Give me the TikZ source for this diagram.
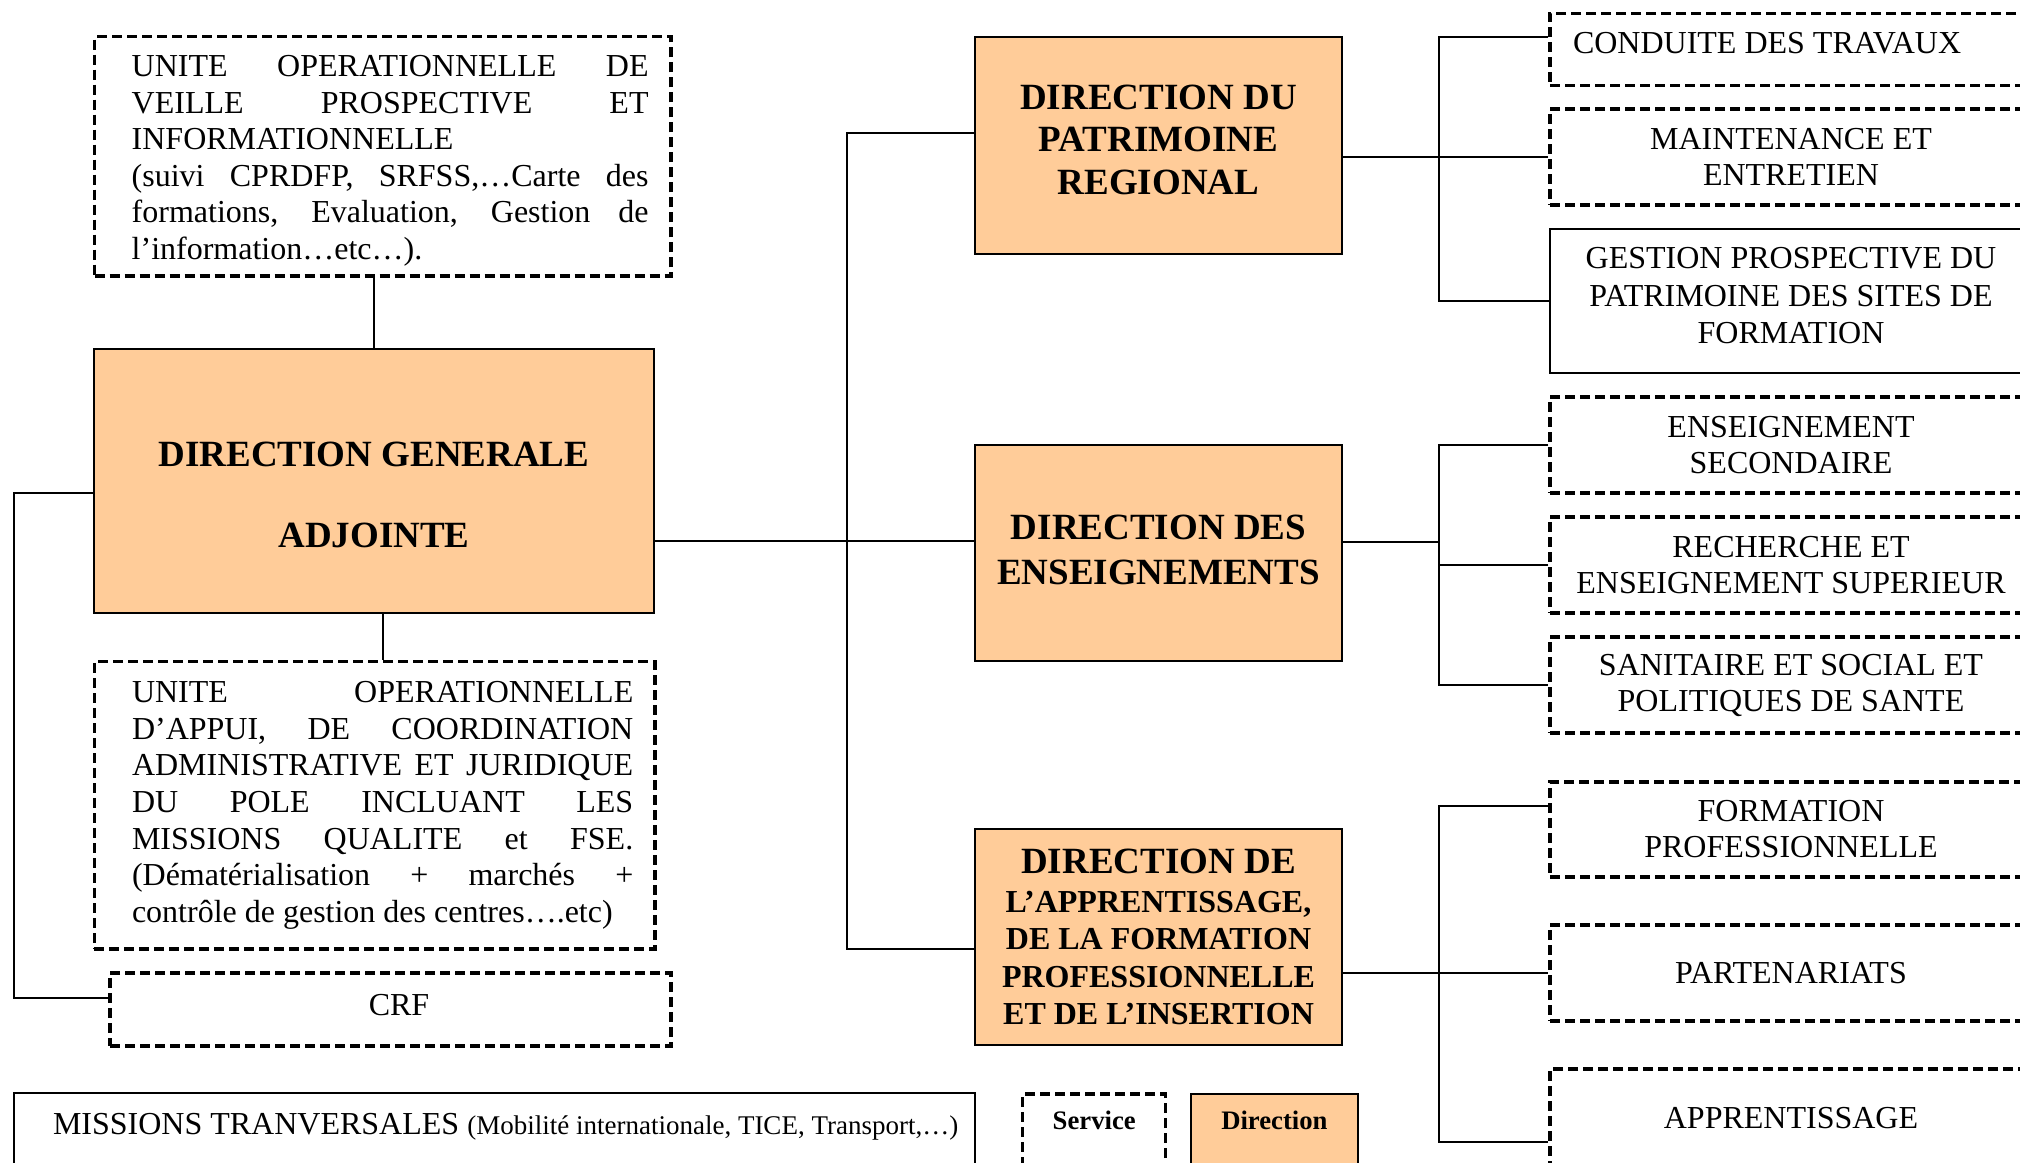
\documentclass[tikz,border=0pt]{standalone}
\usepackage{fontspec}
\setmainfont{Liberation Serif}
\definecolor{dirfill}{HTML}{FFCC99}
\newlength\myind
\newcommand\jl[1]{\hbox to\hsize{\hskip\myind #1}}
\newcommand\rl[1]{\hbox to\hsize{\hskip\myind #1\hfil}}
\newcommand\adddepth[1]{\rule[-#1]{0pt}{#1}}
\newcommand\addheight[1]{\rule{0pt}{#1}}
\begin{document}
\begin{tikzpicture}[x=1pt, y=-1pt, font=\fontsize{32}{36.5}\selectfont,
  svc/.style={draw, line width=3.3pt, dash pattern=on 10pt off 5pt, inner sep=0pt},
  svcr/.style={svc, minimum width=482pt, align=center, font=\fontsize{32}{36}\selectfont},
  dirbox/.style={draw, fill=dirfill, line width=2pt, inner sep=0pt, align=center, font=\bfseries\fontsize{37}{42.5}\selectfont},
  solidbox/.style={draw, line width=2pt, inner sep=0pt},
  conn/.style={line width=2pt}]
\clip (0,0) rectangle (2020,1162);

% left column
\node[svc, minimum width=576.4pt, minimum height=239.3pt] (uov) at (382.8,156.4)
 {\vbox{\hsize=531.6pt \myind=14.7pt
  \jl{\addheight{30pt}UNITE OPERATIONNELLE DE}
  \jl{VEILLE PROSPECTIVE ET}
  \rl{INFORMATIONNELLE}
  \jl{(suivi CPRDFP, SRFSS,…Carte des}
  \jl{formations, Evaluation, Gestion de}
  \rl{l’information…etc…).}}};

\node[dirbox, minimum width=560pt, minimum height=264pt] (dga) at (374,481)
 {\addheight{53pt}DIRECTION GENERALE\\[38.5pt]ADJOINTE};

\node[svc, minimum width=560.6pt, minimum height=287.3pt] (uoa) at (374.7,805.4)
 {\vbox{\hsize=517.2pt \myind=15.9pt \baselineskip=36.7pt
  \jl{UNITE OPERATIONNELLE}
  \jl{D’APPUI, DE COORDINATION}
  \jl{ADMINISTRATIVE ET JURIDIQUE}
  \jl{DU POLE INCLUANT LES}
  \jl{MISSIONS QUALITE et FSE.}
  \jl{(Dématérialisation + marchés +}
  \rl{contrôle de gestion des centres….etc)}}};

\node[svc, minimum width=561pt, minimum height=73pt] (crf) at (390.5,1009.5)
 {\hskip17pt CRF\adddepth{9pt}};

\node[solidbox, minimum width=961pt, minimum height=87pt] (miss) at (494.5,1136.5)
 {\makebox[883pt][l]{MISSIONS TRANVERSALES {\fontsize{27}{30}\selectfont (Mobilité internationale, TICE, Transport,…)}}\adddepth{26pt}};

% directions
\node[dirbox, minimum width=367pt, minimum height=217pt] (dpr) at (1158.5,145.5)
 {DIRECTION DU\\PATRIMOINE\\REGIONAL\adddepth{12pt}};
\node[dirbox, minimum width=367pt, minimum height=216pt] (de) at (1158.5,553)
 {DIRECTION DES\\[2.5pt]ENSEIGNEMENTS\adddepth{7pt}};
\node[dirbox, minimum width=367pt, minimum height=216pt, font=\bfseries\fontsize{32}{37.5}\selectfont] (dafpi) at (1158.5,937)
 {{\fontsize{37}{37.5}\selectfont DIRECTION DE}\\[1pt]L’APPRENTISSAGE,\\DE LA FORMATION\\PROFESSIONNELLE\\ET DE L’INSERTION};

% legend
\node[svc, minimum width=143pt, minimum height=86pt, font=\bfseries\fontsize{26.7}{30}\selectfont] (legsvc) at (1094.2,1137)
 {Service\adddepth{33pt}};
\node[dirbox, minimum width=167.3pt, minimum height=86pt, font=\bfseries\fontsize{26.7}{30}\selectfont] (legdir) at (1274.4,1137)
 {Direction\adddepth{33pt}};

% right column
\node[svcr, minimum height=72.2pt] (cond) at (1791,49.4)
 {\makebox[436pt][l]{CONDUITE DES TRAVAUX}\adddepth{12.8pt}};
\node[svcr, minimum height=96pt] (maint) at (1791,157) {MAINTENANCE ET\\ENTRETIEN};
\node[solidbox, minimum width=482pt, minimum height=144pt, align=center, font=\fontsize{32}{37.5}\selectfont] (gest) at (1791,301)
 {GESTION PROSPECTIVE DU\\PATRIMOINE DES SITES DE\\FORMATION\adddepth{11pt}};
\node[svcr, minimum height=96pt] (ens) at (1791,445) {ENSEIGNEMENT\\SECONDAIRE};
\node[svcr, minimum height=96pt] (rech) at (1791,565) {RECHERCHE ET\\ENSEIGNEMENT SUPERIEUR};
\node[svcr, minimum height=96pt] (san) at (1791,685) {SANITAIRE ET SOCIAL ET\\POLITIQUES DE SANTE};
\node[svcr, minimum height=95pt] (fp) at (1791,829.5) {FORMATION\\PROFESSIONNELLE};
\node[svcr, minimum height=96pt] (part) at (1791,973) {PARTENARIATS};
\node[svcr, minimum height=99pt] (appr) at (1791,1118.5) {APPRENTISSAGE};

% connectors, left
\coordinate (lbus) at (14,998);
\draw[conn] (dga.north) -- (dga.north |- uov.south);
\coordinate (dgaS) at ([xshift=9pt]dga.south);
\draw[conn] (dgaS) -- (dgaS |- uoa.north);
\draw[conn] ([yshift=-12pt]dga.west) -| (lbus) -- ([yshift=11.5pt]crf.west);

% connectors, centre
\coordinate (dgaE) at ([yshift=-60pt]dga.east);
\draw[conn] (dgaE) -- (dgaE -| de.west);
\coordinate (mbus) at (847,541);
\draw[conn] ([yshift=12.5pt]dpr.west) -| (mbus) |- ([yshift=-12pt]dafpi.west);

% connectors, right
\coordinate (rb1) at (1439,157);
\draw[conn] ([yshift=12.5pt]cond.west) -| (rb1) |- (gest.west);
\coordinate (dprE) at ([yshift=-11.5pt]dpr.east);
\draw[conn] (dprE) -- (dprE -| maint.west);

\coordinate (rb2) at (1439,541.5);
\draw[conn] (ens.west) -| (rb2) |- (san.west);
\draw[conn] (rech.west) -- (rech.west -| rb2);
\coordinate (deE) at ([yshift=11.5pt]de.east);
\draw[conn] (deE) -- (deE -| rb2);

\coordinate (rb3) at (1439,973);
\draw[conn] ([yshift=23.5pt]fp.west) -| (rb3) |- ([yshift=-23.5pt]appr.west);
\coordinate (dafE) at ([yshift=-36pt]dafpi.east);
\draw[conn] (dafE) -- (part.west);
\end{tikzpicture}
\end{document}
